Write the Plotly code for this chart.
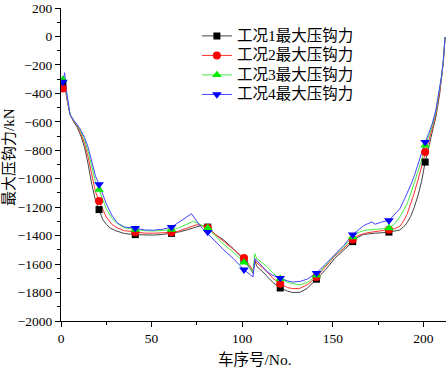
import plotly.graph_objects as go

# ---------------- data ----------------
names = ["工况1最大压钩力", "工况2最大压钩力", "工况3最大压钩力", "工况4最大压钩力"]

# marker positions (every 20th car) and their values
marker_x = [1, 21, 41, 61, 81, 101, 121, 141, 161, 181, 201]
m1 = [-330, -1217, -1393, -1384, -1340, -1570, -1768, -1706, -1442, -1375, -883]
m2 = [-365, -1157, -1377, -1377, -1345, -1557, -1738, -1691, -1428, -1358, -813]
m3 = [-305, -1077, -1358, -1358, -1347, -1588, -1703, -1680, -1410, -1347, -766]
m4 = [-320, -1040, -1347, -1340, -1375, -1639, -1698, -1663, -1393, -1293, -742]

# line curves
x1 = [1, 2, 3, 5, 7, 9, 11, 13, 15, 17, 19, 21, 23, 25, 27, 30, 35, 41, 46, 51, 56, 61, 66, 70, 74,
      77, 79, 81, 85, 90, 95, 101, 104, 106, 107, 108, 111, 114, 117, 121, 125, 128, 132, 136, 141,
      146, 151, 156, 161, 164, 167, 170, 173, 177, 181, 184, 187, 189, 191, 193, 195, 197, 199, 201,
      203, 205, 207, 209, 210, 211, 212]
y1 = [-330, -300, -420, -550, -600, -640, -700, -780, -900, -1040, -1150, -1217, -1285, -1320, -1345,
      -1365, -1385, -1393, -1396, -1396, -1392, -1384, -1372, -1358, -1340, -1330, -1330, -1340, -1390,
      -1433, -1490, -1570, -1620, -1665, -1575, -1615, -1650, -1690, -1730, -1768, -1790, -1800, -1798,
      -1770, -1706, -1640, -1560, -1500, -1442, -1410, -1392, -1385, -1383, -1380, -1375, -1368, -1360,
      -1340, -1310, -1265, -1200, -1120, -1020, -883, -775, -670, -560, -405, -305, -185, -5]

x2 = [1, 2, 3, 5, 7, 9, 11, 13, 15, 17, 19, 21, 23, 25, 28, 31, 35, 41, 46, 51, 56, 61, 65, 69, 72,
      75, 78, 81, 85, 90, 95, 101, 104, 106, 107, 108, 111, 114, 117, 121, 125, 128, 132, 136, 141,
      146, 151, 156, 161, 164, 167, 170, 173, 177, 181, 184, 187, 189, 191, 193, 195, 197, 199, 201,
      203, 205, 207, 209, 210, 211, 212]
y2 = [-365, -315, -420, -550, -595, -630, -685, -750, -850, -980, -1090, -1157, -1220, -1269, -1320,
      -1345, -1365, -1377, -1382, -1383, -1380, -1377, -1368, -1350, -1335, -1323, -1330, -1345, -1390,
      -1445, -1495, -1557, -1605, -1650, -1570, -1590, -1625, -1656, -1700, -1738, -1765, -1773, -1770,
      -1745, -1691, -1620, -1545, -1490, -1428, -1400, -1386, -1378, -1372, -1365, -1358, -1352, -1335,
      -1300, -1250, -1180, -1100, -1010, -910, -813, -730, -645, -540, -390, -295, -180, -5]

x3 = [1, 2, 3, 5, 7, 9, 11, 13, 15, 17, 19, 21, 23, 25, 28, 31, 35, 41, 46, 51, 56, 61, 65, 69, 71,
      73, 75, 78, 81, 85, 90, 95, 101, 104, 106, 107, 108, 111, 114, 117, 121, 125, 128, 132, 136, 141,
      146, 151, 156, 161, 164, 167, 170, 173, 177, 181, 184, 187, 189, 191, 193, 195, 197, 199, 201,
      203, 205, 207, 209, 210, 211, 212]
y3 = [-305, -290, -400, -545, -590, -625, -670, -730, -810, -920, -1020, -1077, -1150, -1211, -1275,
      -1315, -1345, -1358, -1365, -1368, -1365, -1358, -1345, -1325, -1312, -1300, -1310, -1330, -1347,
      -1400, -1463, -1515, -1588, -1625, -1650, -1527, -1562, -1590, -1621, -1665, -1703, -1728, -1738,
      -1745, -1730, -1680, -1610, -1540, -1480, -1410, -1378, -1365, -1360, -1356, -1352, -1347, -1320,
      -1269, -1225, -1176, -1105, -1035, -950, -870, -766, -700, -625, -525, -380, -285, -175, -5]

x4 = [1, 2, 3, 5, 7, 9, 11, 13, 15, 17, 19, 21, 23, 25, 28, 31, 35, 41, 46, 51, 56, 61, 64, 67, 70,
      72, 75, 78, 81, 85, 90, 95, 101, 104, 106, 107, 108, 111, 114, 117, 121, 125, 128, 132, 136, 141,
      146, 151, 156, 161, 164, 167, 169, 171.5, 173.5, 175, 177, 181, 184, 187, 189, 191, 193, 195, 197,
      199, 201, 203, 205, 207, 209, 210, 211, 212]
y4 = [-320, -255, -380, -550, -590, -620, -660, -710, -780, -880, -980, -1040, -1110, -1176, -1255,
      -1310, -1340, -1347, -1360, -1362, -1355, -1340, -1315, -1290, -1265, -1246, -1300, -1350, -1386,
      -1440, -1503, -1560, -1639, -1670, -1691, -1560, -1575, -1615, -1656, -1680, -1698, -1718, -1726,
      -1722, -1705, -1663, -1600, -1538, -1470, -1393, -1360, -1330, -1318, -1304, -1320, -1312, -1304,
      -1293, -1255, -1211, -1160, -1105, -1045, -980, -900, -830, -742, -680, -610, -510, -370, -280,
      -170, -5]

# ---------------- style ----------------
line_colors = ["#444444", "#ff3030", "#44ee44", "#4444ff"]
mark_colors = ["#000000", "#ff0000", "#00ee00", "#0000ff"]
symbols = ["square", "circle", "triangle-up", "triangle-down"]
msizes = [7, 8, 8.5, 8.5]

FONT = "Liberation Serif, Times New Roman, Noto Sans CJK SC, serif"

fig = go.Figure()
lines = [(x1, y1), (x2, y2), (x3, y3), (x4, y4)]
marks = [m1, m2, m3, m4]

for i, (xs, ys) in enumerate(lines):
    fig.add_trace(go.Scatter(x=xs, y=ys, mode="lines", showlegend=False,
                             line=dict(color=line_colors[i], width=1), hoverinfo="skip"))
for i, ms in enumerate(marks):
    fig.add_trace(go.Scatter(x=marker_x, y=ms, mode="markers", showlegend=False,
                             marker=dict(color=mark_colors[i], symbol=symbols[i], size=msizes[i],
                                         line=dict(width=0))))
for i, nm in enumerate(names):
    fig.add_trace(go.Scatter(x=[None], y=[None], mode="lines+markers",
                             name='<span style="font-size:15.5px">' + nm + '</span>',
                             line=dict(color=line_colors[i], width=1),
                             marker=dict(color=mark_colors[i], symbol=symbols[i], size=msizes[i],
                                         line=dict(width=0))))

axis_common = dict(showline=True, linecolor="black", linewidth=1, ticks="outside",
                   tickcolor="black", ticklen=5, tickwidth=1, showgrid=False, zeroline=False,
                   tickfont=dict(family=FONT, size=13.5, color="black"))

fig.update_layout(
    width=448, height=372,
    margin=dict(l=61, r=2, t=8, b=51),
    paper_bgcolor="white", plot_bgcolor="white",
    font=dict(family=FONT, color="black"),
    xaxis=dict(range=[0, 212.5], tickvals=[0, 50, 100, 150, 200],
               minor=dict(ticks="outside", ticklen=3, tickcolor="black", dtick=25, tick0=0),
               **axis_common),
    yaxis=dict(range=[-2000, 200], dtick=200, tick0=0,
               minor=dict(ticks="outside", ticklen=3, tickcolor="black", dtick=100, tick0=0),
               **axis_common),
    legend=dict(x=0.353, y=0.958, xanchor="left", yanchor="top", bgcolor="rgba(0,0,0,0)",
                font=dict(family=FONT, size=12.7, color="black"), tracegroupgap=0),
    annotations=[
        dict(text="最大压钩力/kN", xref="paper", yref="paper", x=-0.135, y=0.524,
             textangle=-90, showarrow=False, font=dict(family=FONT, size=15, color="black"),
             xanchor="center", yanchor="middle"),
        dict(text="车序号/No.", xref="paper", yref="paper", x=0.5026, y=-0.1246,
             showarrow=False, font=dict(family=FONT, size=15.5, color="black"),
             xanchor="center", yanchor="middle"),
    ],
)

fig.write_html("out.html", config={"displayModeBar": False},
               post_script="document.body.style.margin='0';")
